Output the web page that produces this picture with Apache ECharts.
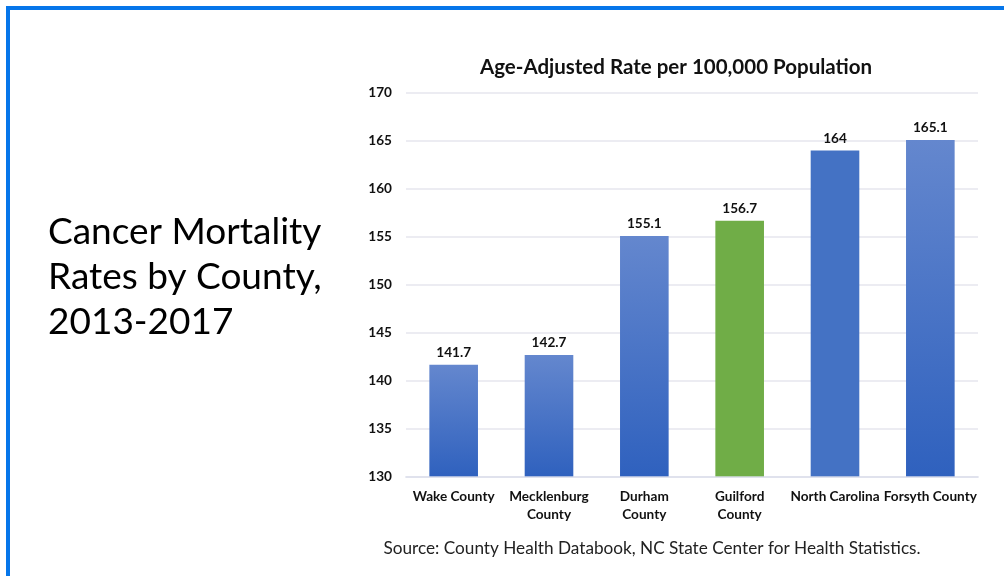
<!DOCTYPE html>
<html>
<head>
<meta charset="utf-8">
<script src="https://cdn.jsdelivr.net/npm/echarts@6/dist/echarts.min.js"></script>
<style>html,body{margin:0;padding:0;background:#fff;}#c{width:1004px;height:576px;}</style>
</head>
<body>
<div id="c"></div>
<script>
var categories = ['Wake County', 'Mecklenburg\nCounty', 'Durham\nCounty', 'Guilford\nCounty', 'North Carolina', 'Forsyth County'];
var rates = [141.7, 142.7, 155.1, 156.7, 164, 165.1];
var barStyles = ['grad', 'grad', 'grad', 'green', 'flat', 'grad'];
var yTicks = { min: 130, max: 170, interval: 5 };

var FONT = 'Lato, "Open Sans", sans-serif';
function grad() {
  return new echarts.graphic.LinearGradient(0, 0, 0, 1, [
    { offset: 0, color: '#6487CE' },
    { offset: 1, color: '#2F61BE' }
  ]);
}
var data = rates.map(function (v, i) {
  var c = barStyles[i] === 'green' ? '#70AD47' : (barStyles[i] === 'flat' ? '#4472C4' : grad());
  return { value: v, itemStyle: { color: c } };
});

var chart = echarts.init(document.getElementById('c'));
chart.setOption({
  animation: false,
  backgroundColor: '#fff',
  graphic: [
    { type: 'rect', shape: { x: 6, y: 6, width: 1004, height: 4 }, style: { fill: '#0676EA' }, silent: true },
    { type: 'rect', shape: { x: 6, y: 6, width: 4, height: 580 }, style: { fill: '#0676EA' }, silent: true },
    { type: 'text', left: 48, top: 210, style: {
        text: 'Cancer Mortality\nRates by County,\n2013-2017',
        font: '37px ' + FONT, fill: '#000', lineHeight: 45 } }
  ],
  title: [
    { text: 'Age-Adjusted Rate per 100,000 Population', left: 671, top: 52, textAlign: 'center',
      textStyle: { fontFamily: FONT, fontWeight: 'bold', fontSize: 20.5, color: '#111' } },
    { text: 'Source: County Health Databook, NC State Center for Health Statistics.', left: 647, top: 535, textAlign: 'center',
      textStyle: { fontFamily: FONT, fontWeight: 'normal', fontSize: 17.2, color: '#222' } }
  ],
  grid: { left: 406, right: 26, top: 93, bottom: 99 },
  xAxis: {
    type: 'category', data: categories, z: 3,
    axisLine: { lineStyle: { color: 'rgba(220,222,235,0.7)', width: 2 } },
    axisTick: { show: false },
    axisLabel: { interval: 0, margin: 11, fontFamily: FONT, fontWeight: 'bold', fontSize: 13.6, color: '#111', lineHeight: 18 }
  },
  yAxis: {
    type: 'value', min: yTicks.min, max: yTicks.max, interval: yTicks.interval,
    axisLine: { show: false }, axisTick: { show: false },
    splitLine: { lineStyle: { color: '#E6E6EE', width: 1.5 } },
    axisLabel: { margin: 14, fontFamily: FONT, fontWeight: 'bold', fontSize: 13.6, color: '#111' }
  },
  series: [{
    type: 'bar', data: data, barWidth: '51%',
    label: { show: true, position: 'top', distance: 5, fontFamily: FONT, fontWeight: 'bold', fontSize: 13.6, color: '#111' }
  }]
});
</script>
</body>
</html>
